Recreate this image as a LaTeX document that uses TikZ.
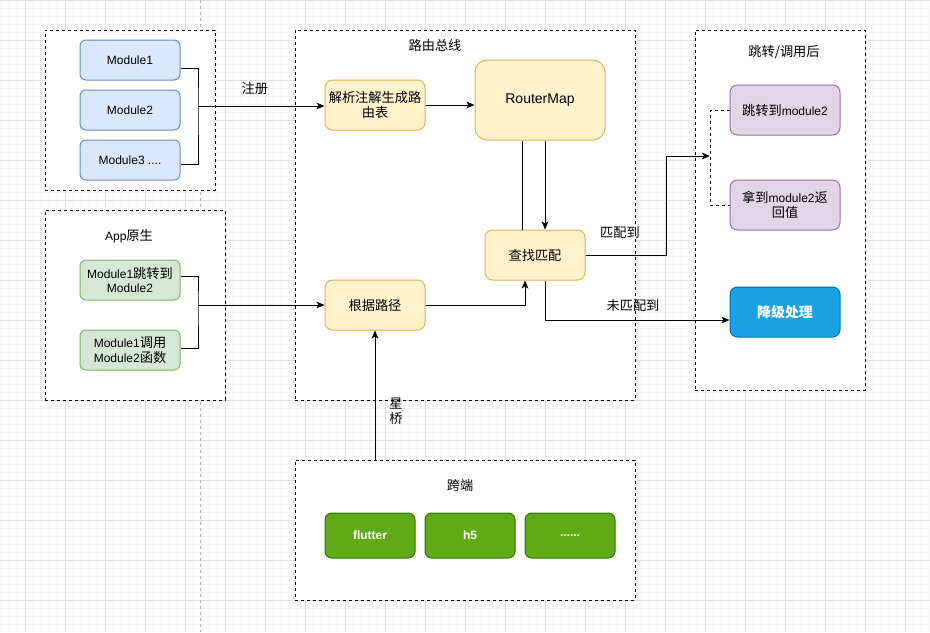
\documentclass[tikz,border=0pt]{standalone}
\usepackage{fontspec}
\setmainfont{Liberation Sans}
\newfontfamily\zhfont[Scale=1.1]{Noto Sans CJK SC}
\newcommand{\zh}[1]{{\zhfont #1}}
\usetikzlibrary{arrows.meta}

\definecolor{modfill}{HTML}{DAE8FC}
\definecolor{modline}{HTML}{6C8EBF}
\definecolor{appfill}{HTML}{D5E8D4}
\definecolor{appline}{HTML}{82B366}
\definecolor{busfill}{HTML}{FFF2CC}
\definecolor{busline}{HTML}{D6B656}
\definecolor{afterfill}{HTML}{E1D5E7}
\definecolor{afterline}{HTML}{9673A6}
\definecolor{fallfill}{HTML}{1BA1E2}
\definecolor{fallline}{HTML}{006EAF}
\definecolor{crossfill}{HTML}{60A917}
\definecolor{crossline}{HTML}{2D7600}
\definecolor{gridmajor}{HTML}{DEDEDE}
\definecolor{gridminor}{HTML}{F3F3F3}

\begin{document}
\begin{tikzpicture}[x=0.75pt,y=-0.75pt,>={Stealth[length=6pt,width=5pt,inset=1.5pt]},
  font=\fontsize{9}{11}\selectfont]
        \tikzset{group/.style = {draw=black,fill=white,line width=0.75pt,dash pattern=on 2.25pt off 2.25pt,minimum width=#1}};
        \tikzset{box/.style = {draw,line width=0.75pt,align=center,inner sep=1pt,rounded corners=4.5pt,minimum width=75pt,minimum height=30pt}};
        \tikzset{busbox/.style = {box,fill=busfill,draw=busline,minimum height=37.5pt,rounded corners=5.6pt}};
        \tikzset{afterbox/.style = {box,fill=afterfill,draw=afterline,minimum width=82.5pt,minimum height=37.5pt,rounded corners=5.6pt}};
        \tikzset{crossbox/.style = {box,fill=crossfill,draw=crossline,text=white,font=\fontsize{9}{11}\selectfont\bfseries,minimum width=67.5pt,minimum height=33.75pt,rounded corners=5pt}};
        \tikzset{link/.style = {line width=0.75pt}};
        % background grid
        \fill[white] (0,0) rectangle (930,632);
        \useasboundingbox (0,0) rectangle (930,632);
        \foreach \x in {1.7,9.7,...,930} \draw[gridminor,line width=0.4pt] (\x,0) -- (\x,632);
        \foreach \y in {0.7,8.7,...,632} \draw[gridminor,line width=0.4pt] (0,\y) -- (930,\y);
        \foreach \x in {25.7,65.7,...,930} \draw[gridmajor,line width=0.5pt] (\x,0) -- (\x,632);
        \foreach \y in {0.7,40.7,...,632} \draw[gridmajor,line width=0.5pt] (0,\y) -- (930,\y);
        \draw[black!30,line width=0.6pt,dash pattern=on 2.25pt off 2.25pt] (200,0) -- (200,632);
        % groups
        \node[group=127.5pt,minimum height=120pt] (modules) at (130,110) {};
        \node[group=135pt,minimum height=142.5pt] (native) at (135,305) {};
        \node[group=255pt,minimum height=277.5pt] (bus) at (465,215) {};
        \node[group=127.5pt,minimum height=270pt] (after) at (780,210) {};
        \node[group=255pt,minimum height=105pt] (cross) at (465,530) {};
        \node at (129,236) {App\zh{原生}};
        \node at (435,45) {\zh{路由总线}};
        \node at (784,52) {\zh{跳转/调用后}};
        \node at (460,486) {\zh{跨端}};
        % modules
        \node[box,fill=modfill,draw=modline] (m1) at (130,60) {Module1};
        \node[box,fill=modfill,draw=modline] (m2) at (130,110) {Module2};
        \node[box,fill=modfill,draw=modline] (m3) at (130,160) {Module3 ....};
        \node[box,fill=appfill,draw=appline] (g1) at (130,280) {Module1\zh{跳转到}\\Module2};
        \node[box,fill=appfill,draw=appline] (g2) at (130,350) {Module1\zh{调用}\\Module2\zh{函数}};
        % bus
        \node[busbox] (parse) at (375,105) {\zh{解析注解生成路}\\\zh{由表}};
        \node[busbox,minimum width=97.5pt,minimum height=60pt,rounded corners=9pt,font=\fontsize{10.5}{12}\selectfont] (rmap) at (540,100) {RouterMap};
        \node[busbox] (match) at (535,255) {\zh{查找匹配}};
        \node[busbox] (route) at (375,305) {\zh{根据路径}};
        % after
        \node[afterbox] (jump) at (785,110) {\zh{跳转到}module2};
        \node[afterbox] (ret) at (785,205) {\zh{拿到}module2\zh{返}\\\zh{回值}};
        \node[afterbox,fill=fallfill,draw=fallline,text=white,font=\fontsize{9.5}{11}\selectfont\bfseries] (fall) at (785,312) {\zh{降级处理}};
        % cross
        \node[crossbox] (flutter) at (370,535.5) {flutter};
        \node[crossbox] (h5) at (470,535.5) {h5};
        \node[crossbox] (more) at (570,535.5) {......};
        % links
        \coordinate (j1) at (198,106);
        \coordinate (j2) at (198,305);
        \coordinate (j3) at (666,156);
        \coordinate (j4) at (710,156);
        \draw[link] ([yshift=-6pt]m1.east) -| (j1) |- ([yshift=-3pt]m3.east);
        \draw[link,->] (j1) to node[above=5pt,pos=0.45] (reg) {\zh{注册}} (parse.west |- j1);
        \draw[link] ([yshift=3pt]g1.east) -| (j2) |- ([yshift=1.5pt]g2.east);
        \draw[link,->] (j2) to (route);
        \draw[link,->] (parse.east) to (parse.east -| rmap.west);
        \draw[link] ([xshift=-13.5pt]rmap.south) to ([xshift=-9.75pt]match.north);
        \draw[link,->] ([xshift=3.75pt]rmap.south) to ([xshift=7.5pt]match.north);
        \draw[link,->] (route.east) -| ([xshift=-7.5pt]match.south);
        \draw[link,->] (match.east) -| (j3) -- (j4);
        \node (hit) at (620,233) {\zh{匹配到}};
        \draw[link,dash pattern=on 2.25pt off 2.25pt] (jump.west) -| (j4) |- (ret.west);
        \draw[link,->] ([xshift=7.5pt]match.south) |- ([yshift=-6pt]fall.west);
        \node (miss) at (633,305) {\zh{未匹配到}};
        \draw[link,->] (cross.north -| route.south) to (route.south);
        \node[align=center] (bridge) at (396,411) {\zh{星}\\\zh{桥}};
    \end{tikzpicture}
\end{document}
